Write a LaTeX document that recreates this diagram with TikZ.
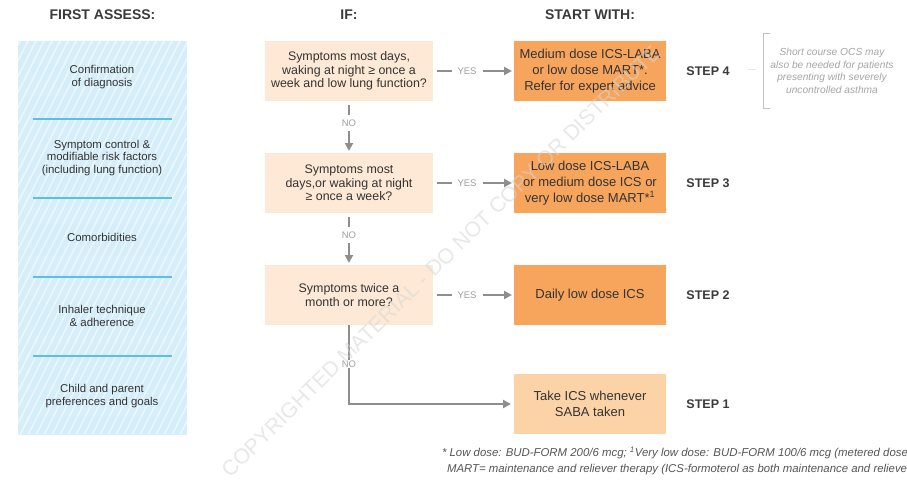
\documentclass[tikz,border=0pt]{standalone}
\usepackage{fontspec}
\setmainfont{Liberation Sans}
\usetikzlibrary{arrows.meta}
\definecolor{panel}{HTML}{D6EEFA}
\definecolor{stripe}{HTML}{EAF7FD}
\definecolor{divider}{HTML}{5CBFE8}
\definecolor{ifbox}{HTML}{FDE9D5}
\definecolor{startbox}{HTML}{F7A55C}
\definecolor{stepone}{HTML}{FBD3A7}
\definecolor{arrowgray}{HTML}{8E8E8E}
\definecolor{txt}{HTML}{333333}
\definecolor{headtxt}{HTML}{3A3A3A}
\definecolor{notegray}{HTML}{A6A6A6}
\definecolor{labelgray}{HTML}{A0A0A0}
\definecolor{footgray}{HTML}{555555}
\begin{document}
\begin{tikzpicture}[x=1pt,y=-1pt,
  every node/.style={inner sep=0pt, outer sep=0pt, text=txt},
  head/.style={font=\fontsize{14}{16}\selectfont\bfseries, text=headtxt},
  panelnode/.style={align=center, font=\fontsize{11.4}{12.3}\selectfont},
  ifnode/.style={fill=ifbox, minimum width=168pt, minimum height=60pt, align=center, font=\fontsize{12.4}{13.4}\selectfont},
  startnode/.style={fill=startbox, minimum width=152pt, minimum height=60pt, align=center, font=\fontsize{13}{15.8}\selectfont},
  steplabel/.style={font=\fontsize{12.5}{14}\selectfont\bfseries, text=headtxt},
  yn/.style={font=\fontsize{9.5}{10}\selectfont, text=labelgray},
  conn/.style={draw=arrowgray, line width=2.3pt},
  arr/.style={conn, -{Triangle[length=8pt,width=8pt]}},
  foot/.style={anchor=west, font=\fontsize{11.4}{12}\selectfont\itshape, text=footgray},
]
\useasboundingbox (0,0) rectangle (907,480);
\fill[white] (0,0) rectangle (907,480);

% headings
\node[head] (h1) at (102.5,15) {FIRST ASSESS:};
\node[head] (h2) at (349,15) {IF:};
\node[head] (h3) at (590,15) {START WITH:};

% left panel
\fill[panel] (18,41) rectangle (187,435);
\begin{scope}
\clip (18,41) rectangle (187,435);
\foreach \i in {-220,-212,...,200} \draw[stripe, line width=1.6pt] (\i,435) -- ++(200,-394);
\end{scope}
\foreach \yy in {119,198,277,356} \draw[divider, line width=2pt] (33,\yy) -- (172,\yy);
\node[panelnode] (p1) at (102,77) {Confirmation\\of diagnosis};
\node[panelnode] (p2) at (102,158) {Symptom control \&\\modifiable risk factors\\(including lung function)};
\node[panelnode] (p3) at (102,237) {Comorbidities};
\node[panelnode] (p4) at (102,316) {Inhaler technique\\\& adherence};
\node[panelnode] (p5) at (102,396) {Child and parent\\preferences and goals};

% IF boxes
\node[ifnode] (q4) at (349,71) {Symptoms most days,\\waking at night ≥ once a\\week and low lung function?};
\node[ifnode] (q3) at (349,183) {Symptoms most\\days,or waking at night\\≥ once a week?};
\node[ifnode] (q2) at (349,295) {Symptoms twice a\\month or more?};

% start boxes
\node[startnode] (s4) at (590,71) {Medium dose ICS-LABA\\or low dose MART*.\\Refer for expert advice};
\node[startnode] (s3) at (590,183) {Low dose ICS-LABA\\or medium dose ICS or\\very low dose MART*\textsuperscript{1}};
\node[startnode] (s2) at (590,295) {Daily low dose ICS};
\node[startnode, fill=stepone] (s1) at (590,404) {Take ICS whenever\\SABA taken};

% step labels
\node[steplabel] (t4) at (708,71) {STEP 4};
\node[steplabel] (t3) at (708,183) {STEP 3};
\node[steplabel] (t2) at (708,295) {STEP 2};
\node[steplabel] (t1) at (708,404) {STEP 1};

% YES connectors
\foreach \n/\yy in {4/71,3/183,2/295}{
  \node[yn] (y\n) at (467,\yy) {YES};
  \draw[conn, shorten <=4pt, shorten >=6pt] (q\n.east) -- (y\n.west);
  \draw[arr, shorten <=6pt, shorten >=2pt] (y\n.east) -- (s\n.west);
}

% NO connectors
\node[yn] (n4) at (349,123) {NO};
\draw[conn, shorten <=4pt, shorten >=5pt] (q4.south) -- (n4.north);
\draw[arr, shorten <=5pt, shorten >=2pt] (n4.south) -- (q3.north);
\node[yn] (n3) at (349,235) {NO};
\draw[conn, shorten <=4pt, shorten >=5pt] (q3.south) -- (n3.north);
\draw[arr, shorten <=5pt, shorten >=2pt] (n3.south) -- (q2.north);
\draw[arr, shorten >=3pt] (q2.south) |- (s1.west);
\node[yn, fill=white, inner sep=1pt] (n2) at (349,364) {NO};

% side note
\node[font=\fontsize{7}{7}\selectfont, text=notegray] (dots) at (752,70) {....};
\coordinate (bt) at (770,33);
\coordinate (bb) at (770,108);
\draw[notegray!70, line width=1pt] (bt) -- ++(-7,0) |- (bb);
\node[align=center, font=\fontsize{10.2}{12.7}\selectfont\itshape, text=notegray] (note) at (832,71)
  {Short course OCS may\\also be needed for patients\\presenting with severely\\uncontrolled asthma};

% footnote
\node[foot] (f1) at (442,453)
  {* Low dose: BUD-FORM 200/6 mcg; \textsuperscript{1}Very low dose: BUD-FORM 100/6 mcg (metered dose)};
\node[foot] (f2) at (447,470)
  {MART= maintenance and reliever therapy (ICS-formoterol as both maintenance and reliever)};

% watermark
\node[rotate=44.5, font=\fontsize{21.3}{21.3}\selectfont, text=black!16, opacity=0.55] (wm) at (441,261)
  {COPYRIGHTED MATERIAL - DO NOT COPY OR DISTRIBUTE};
\end{tikzpicture}
\end{document}
